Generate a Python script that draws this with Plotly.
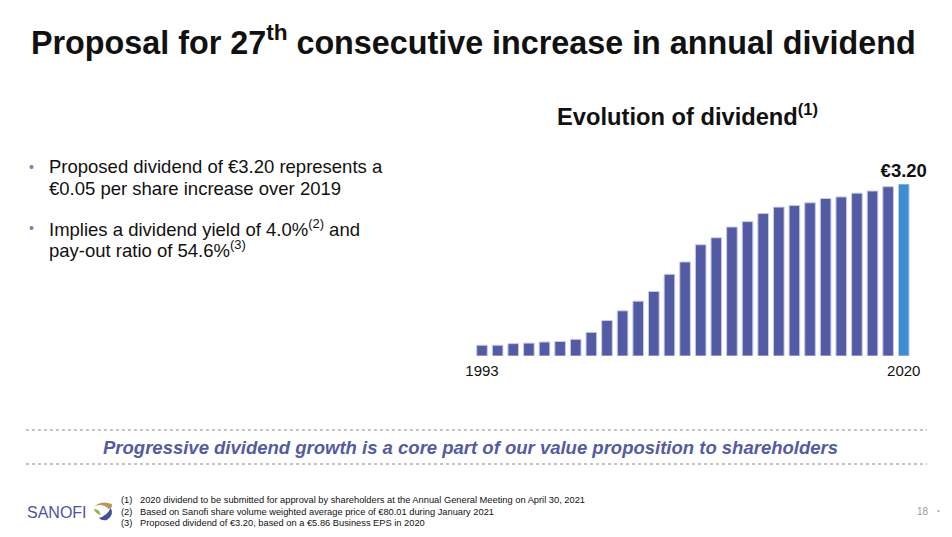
import plotly.graph_objects as go

W, H = 952, 537

years = list(range(1993, 2021))
dividends = [0.20, 0.20, 0.23, 0.24, 0.26, 0.27, 0.31, 0.44, 0.66, 0.84,
             1.02, 1.20, 1.52, 1.75, 2.07, 2.20, 2.40, 2.50, 2.65, 2.77,
             2.80, 2.85, 2.93, 2.96, 3.03, 3.07, 3.15, 3.20]
bar_labels = [""] * 27 + ["€3.20"]
tick_years = [1993, 2020]
tick_text = ["1993", "2020"]

title_text = "Proposal for 27<sup>th</sup> consecutive increase in annual dividend"
chart_title = "Evolution of dividend<sup>(1)</sup>"
bullet_lines = [
    ("Proposed dividend of €3.20 represents a", True),
    ("€0.05 per share increase over 2019", False),
    ("Implies a dividend yield of 4.0%<sup>(2)</sup> and", True),
    ("pay-out ratio of 54.6%<sup>(3)</sup>", False),
]
tagline = "Progressive dividend growth is a core part of our value proposition to shareholders"
footnotes = [
    ("(1)", "2020 dividend to be submitted for approval by shareholders at the Annual General Meeting on April 30, 2021"),
    ("(2)", "Based on Sanofi share volume weighted average price of €80.01 during January 2021"),
    ("(3)", "Proposed dividend of €3.20, based on a €5.86 Business EPS in 2020"),
]

MAIN = "#525BA3"
HIGHLIGHT = "#3D8ED0"
colors = [MAIN] * 27 + [HIGHLIGHT]

# the page renders the paper area 8px in from each side horizontally
OFF, PW = 8.0, 936.0


def px(x):
    return (x - OFF) / PW


def py(y):
    return 1 - y / H


FONT = "Liberation Sans, Arial, sans-serif"

fig = go.Figure()
fig.add_trace(go.Bar(
    x=years, y=dividends,
    marker=dict(color=colors, line=dict(color="#C9CCE8", width=1)),
    width=0.68,
    text=bar_labels, textposition="outside", constraintext="none",
    textfont=dict(family=FONT, size=18.5, color="#111111", weight="bold"),
    cliponaxis=False, hoverinfo="skip",
))

annotations = []
annotations.append(dict(x=px(28), y=py(41), xref="paper", yref="paper", xanchor="left", yanchor="middle",
                        text=title_text, showarrow=False,
                        font=dict(family=FONT, size=32.3, color="#111111", weight="bold")))
annotations.append(dict(x=px(555), y=py(115), xref="paper", yref="paper", xanchor="left", yanchor="middle",
                        text=chart_title, showarrow=False,
                        font=dict(family=FONT, size=23.7, color="#111111", weight="bold")))
line_y = [167, 188, 228, 249]
for (txt, bullet), yy in zip(bullet_lines, line_y):
    annotations.append(dict(x=px(46), y=py(yy), xref="paper", yref="paper", xanchor="left", yanchor="middle",
                            text=txt, showarrow=False,
                            font=dict(family=FONT, size=18.5, color="#111111")))
    if bullet:
        annotations.append(dict(x=px(30.5), y=py(yy), xref="paper", yref="paper", xanchor="center", yanchor="middle",
                                text="•", showarrow=False,
                                font=dict(family=FONT, size=14, color="#7A80B5")))
annotations.append(dict(x=px(470), y=py(447), xref="paper", yref="paper", xanchor="center", yanchor="middle",
                        text="<i>" + tagline + "</i>", showarrow=False,
                        font=dict(family=FONT, size=18.5, color=MAIN, weight="bold")))
for i, (num, txt) in enumerate(footnotes):
    yy = 500 + i * 11.5
    annotations.append(dict(x=px(118), y=py(yy), xref="paper", yref="paper", xanchor="left", yanchor="middle",
                            text=num, showarrow=False, font=dict(family=FONT, size=9.3, color="#111111")))
    annotations.append(dict(x=px(137), y=py(yy), xref="paper", yref="paper", xanchor="left", yanchor="middle",
                            text=txt, showarrow=False, font=dict(family=FONT, size=9.3, color="#111111")))
annotations.append(dict(x=px(24), y=py(512), xref="paper", yref="paper", xanchor="left", yanchor="middle",
                        text="SANOFI", showarrow=False, font=dict(family=FONT, size=16, color="#4B55A3")))
annotations.append(dict(x=px(924), y=py(511), xref="paper", yref="paper", xanchor="center", yanchor="middle",
                        text="18", showarrow=False, font=dict(family=FONT, size=10, color="#9A9A9A")))
annotations.append(dict(x=px(939), y=py(510), xref="paper", yref="paper", xanchor="center", yanchor="middle",
                        text="•", showarrow=False, font=dict(family=FONT, size=8, color="#A8AFD0")))

shapes = []
for yy in (430, 464):
    shapes.append(dict(type="line", xref="paper", yref="paper", x0=px(25), x1=px(928), y0=py(yy), y1=py(yy),
                       line=dict(color="#8A8A8A", width=1, dash="dot")))


def path(points):
    parts = []
    for cmd, pts in points:
        coords = " ".join(f"{px(a):.5f},{py(b):.5f}" for a, b in pts)
        parts.append(f"{cmd} {coords}")
    return " ".join(parts) + " Z"


# logo icon: gold top arc, green leaf, blue swoosh
shapes.append(dict(type="path", xref="paper", yref="paper",
                   path=path([("M", [(94, 506)]), ("Q", [(101, 500), (111, 504)]),
                              ("Q", [(112, 508), (108, 509)]), ("Q", [(102, 503), (94, 506)])]),
                   fillcolor="#C0954F", line=dict(width=0)))
shapes.append(dict(type="path", xref="paper", yref="paper",
                   path=path([("M", [(93, 509)]), ("Q", [(98, 508), (100, 515)]),
                              ("Q", [(95, 514), (93, 509)])]),
                   fillcolor="#8DB840", line=dict(width=0)))
shapes.append(dict(type="path", xref="paper", yref="paper",
                   path=path([("M", [(98, 518)]), ("Q", [(106, 516), (110, 508)]),
                              ("Q", [(114, 515), (106, 520)]), ("Q", [(101, 521), (98, 518)])]),
                   fillcolor="#3F4FA0", line=dict(width=0)))

fig.update_layout(
    width=W, height=H,
    margin=dict(l=0, r=0, t=0, b=0),
    paper_bgcolor="white", plot_bgcolor="white",
    showlegend=False,
    xaxis=dict(domain=[px(474.2), px(912.5)], range=[1992.5, 2020.5],
               tickvals=tick_years, ticktext=tick_text, ticks="", showgrid=False, zeroline=False,
               showline=False, ticklabelstandoff=4,
               tickfont=dict(family=FONT, size=15, color="#111111")),
    yaxis=dict(domain=[py(356), py(184)], range=[0, 3.2], visible=False, showgrid=False),
    annotations=annotations,
    shapes=shapes,
)

fig.write_html("out.html", config={"displayModeBar": False},
               post_script="document.body.style.margin='0';document.body.style.overflow='hidden';")
